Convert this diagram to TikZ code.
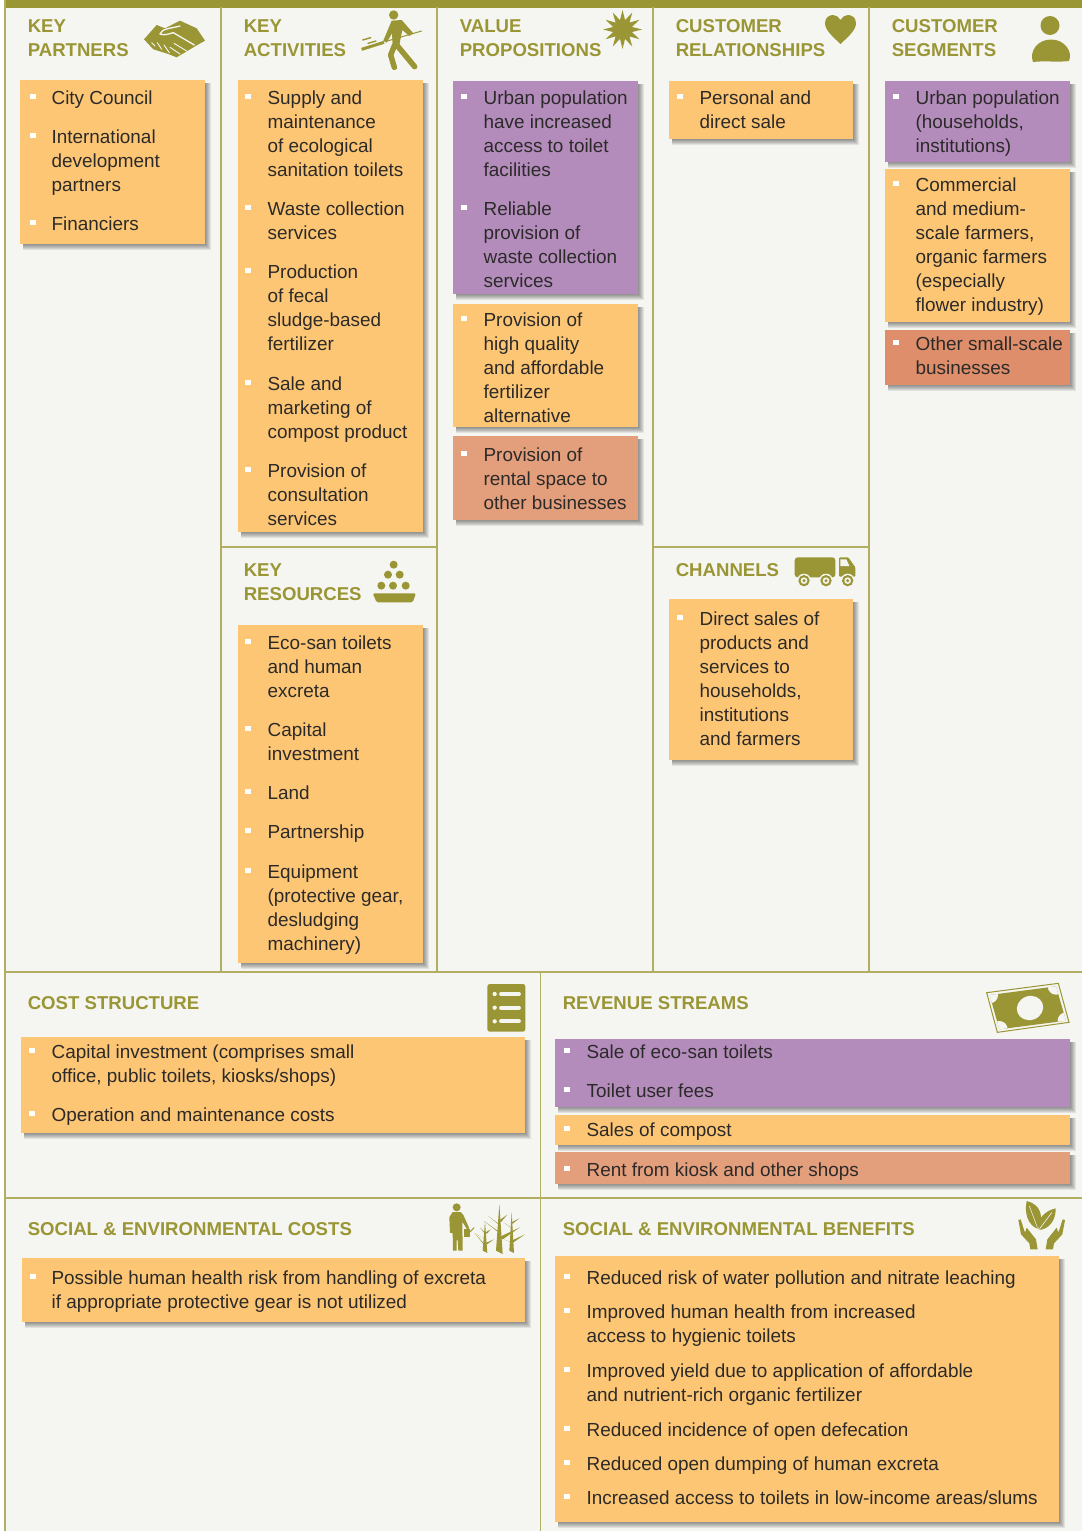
\documentclass[tikz,border=0pt]{standalone}
\usepackage{fontspec}
\setmainfont{Liberation Sans}
\usetikzlibrary{shapes.geometric}
\definecolor{olive}{HTML}{9A9535}
\definecolor{gridc}{HTML}{B2AE62}
\definecolor{paper}{HTML}{F5F6F1}
\definecolor{orangec}{HTML}{FDC674}
\definecolor{purplec}{HTML}{B38CBC}
\definecolor{salmonc}{HTML}{E39E7B}
\definecolor{salmond}{HTML}{DE8E6A}
\definecolor{ink}{HTML}{2C2A29}
\tikzset{
  gridline/.style={draw=gridc,line width=1.5pt},
  cardbox/.style={inner sep=0pt,outer sep=0pt,anchor=north west},
  itemtext/.style={inner sep=0pt,outer sep=0pt,anchor=north west,align=left,text=ink,font=\fontsize{18.92}{24}\selectfont},
  bulletbox/.style={fill=white,inner sep=0pt,outer sep=0pt,minimum size=5.5pt},
  head/.style={inner sep=0pt,outer sep=0pt,anchor=north west,align=left,text=olive,font=\fontsize{18.6}{24}\selectfont\bfseries},
  iconwhite/.style={draw=paper,line cap=round},
  oliveline/.style={draw=olive,line cap=round,line join=round},
  zoomed/.style={x=0.33333pt,y=-0.33333pt},
}
\newcommand{\card}[6]{%
  \foreach \s in {1,2,3,4,5,6}{\fill[black,opacity=.08] (#3+3,#4+3) rectangle (#5+\s,#6+\s);}
  \node[cardbox,fill=#2,minimum width={(#5-#3)*1pt},minimum height={(#6-#4)*1pt}] (#1) at (#3,#4) {};}
\newcommand{\itm}[5]{%
  \node[bulletbox] (#1b) at (#2,#4-0.5) {};
  \node[itemtext] (#1) at (#3-0.4,#4-10.5) {\rule{0pt}{18pt}#5};}
\newcommand{\hdr}[4]{\node[head] (#1) at (#2-0.2,#3-11.2) {\rule{0pt}{18pt}#4};}
\newcommand{\twig}[5]{\fill[olive] (#1-#5,#2) -- (#1+#5,#2+#5) -- (#3,#4) -- cycle;}
\begin{document}
\begin{tikzpicture}[x=1pt,y=-1pt]
\useasboundingbox (0,0) rectangle (1082,1531);
\fill[white] (0,0) rectangle (1082,1531);
\fill[paper] (5,0) rectangle (1082,1531);
\fill[olive] (5,0) rectangle (1082,7.5);
% grid
\draw[gridline] (5,0) -- (5,1531);
\draw[gridline] (221,7) -- (221,972);
\draw[gridline] (437,7) -- (437,972);
\draw[gridline] (653,7) -- (653,972);
\draw[gridline] (869,7) -- (869,972);
\draw[gridline] (221,547) -- (437,547);
\draw[gridline] (653,547) -- (869,547);
\draw[gridline] (5,972) -- (1082,972);
\draw[gridline] (5,1198) -- (1082,1198);
\draw[gridline] (540.5,972) -- (540.5,1531);
% headers
\hdr{hkp}{28}{26}{KEY\\PARTNERS}
\hdr{hka}{244}{26}{KEY\\ACTIVITIES}
\hdr{hvp}{460}{26}{VALUE\\PROPOSITIONS}
\hdr{hcr}{676}{26}{CUSTOMER\\RELATIONSHIPS}
\hdr{hcs}{892}{26}{CUSTOMER\\SEGMENTS}
\hdr{hkr}{244}{570}{KEY\\RESOURCES}
\hdr{hch}{676}{570}{CHANNELS}
\hdr{hcost}{28}{1003}{COST STRUCTURE}
\hdr{hrev}{563}{1003}{REVENUE STREAMS}
\hdr{hsec}{28}{1229}{SOCIAL \& ENVIRONMENTAL COSTS}
\hdr{hseb}{563}{1229}{SOCIAL \& ENVIRONMENTAL BENEFITS}
% key partners
\card{ckp}{orangec}{20}{80}{205}{244}
\itm{kp1}{33}{52}{97}{City Council}
\itm{kp2}{33}{52}{136}{International\\development\\partners}
\itm{kp3}{33}{52}{223}{Financiers}
% key activities
\card{cka}{orangec}{238}{80}{423}{532}
\itm{ka1}{248}{268}{97}{Supply and\\maintenance\\of ecological\\sanitation toilets}
\itm{ka2}{248}{268}{208}{Waste collection\\services}
\itm{ka3}{248}{268}{271}{Production\\of fecal\\sludge-based\\fertilizer}
\itm{ka4}{248}{268}{383}{Sale and\\marketing of\\compost product}
\itm{ka5}{248}{268}{470}{Provision of\\consultation\\services}
% key resources
\card{ckr}{orangec}{238}{625}{423}{963}
\itm{kr1}{248}{268}{642}{Eco-san toilets\\and human\\excreta}
\itm{kr2}{248}{268}{729}{Capital\\investment}
\itm{kr3}{248}{268}{792}{Land}
\itm{kr4}{248}{268}{831}{Partnership}
\itm{kr5}{248}{268}{871}{Equipment\\(protective gear,\\desludging\\machinery)}
% value propositions
\card{cvp1}{purplec}{453}{81}{638}{294}
\itm{vp1}{464}{484}{97}{Urban population\\have increased\\access to toilet\\facilities}
\itm{vp2}{464}{484}{208}{Reliable\\provision of\\waste collection\\services}
\card{cvp2}{orangec}{453}{304}{638}{427}
\itm{vp3}{464}{484}{319}{Provision of\\high quality\\and affordable\\fertilizer\\alternative}
\card{cvp3}{salmonc}{453}{436}{638}{520}
\itm{vp4}{464}{484}{454}{Provision of\\rental space to\\other businesses}
% customer relationships
\card{ccr}{orangec}{669}{81}{853}{139}
\itm{cr1}{680}{700}{97}{Personal and\\direct sale}
% channels
\card{cch}{orangec}{669}{599}{853}{760}
\itm{ch1}{680}{700}{618}{Direct sales of\\products and\\services to\\households,\\institutions\\and farmers}
% customer segments
\card{ccs1}{purplec}{885}{81}{1070}{162}
\itm{cs1}{896}{916}{97}{Urban population\\(households,\\institutions)}
\card{ccs2}{orangec}{885}{169}{1070}{322}
\itm{cs2}{896}{916}{184}{Commercial\\and medium-\\scale farmers,\\organic farmers\\(especially\\flower industry)}
\card{ccs3}{salmond}{885}{330}{1070}{385}
\itm{cs3}{896}{916}{343}{Other small-scale\\businesses}
% cost structure
\card{ccost}{orangec}{21}{1037}{525}{1133}
\itm{co1}{32}{52}{1051}{Capital investment (comprises small\\office, public toilets, kiosks/shops)}
\itm{co2}{32}{52}{1114}{Operation and maintenance costs}
% revenue
\card{crv1}{purplec}{555}{1039}{1070}{1107}
\itm{rv1}{567}{587}{1051}{Sale of eco-san toilets}
\itm{rv2}{567}{587}{1090}{Toilet user fees}
\card{crv2}{orangec}{555}{1115}{1070}{1145}
\itm{rv3}{567}{587}{1129}{Sales of compost}
\card{crv3}{salmonc}{555}{1152}{1070}{1184}
\itm{rv4}{567}{587}{1169}{Rent from kiosk and other shops}
% social costs
\card{csc}{orangec}{22}{1258}{525}{1322}
\itm{sc1}{33}{52}{1277}{Possible human health risk from handling of excreta\\if appropriate protective gear is not utilized}
% social benefits
\card{csb}{orangec}{555}{1256}{1059}{1522}
\itm{sb1}{567}{587}{1277}{Reduced risk of water pollution and nitrate leaching}
\itm{sb2}{567}{587}{1311}{Improved human health from increased\\access to hygienic toilets}
\itm{sb3}{567}{587}{1370}{Improved yield due to application of affordable\\and nutrient-rich organic fertilizer}
\itm{sb4}{567}{587}{1429}{Reduced incidence of open defecation}
\itm{sb5}{567}{587}{1463}{Reduced open dumping of human excreta}
\itm{sb6}{567}{587}{1497}{Increased access to toilets in low-income areas/slums}
% ---- icons ----
\begin{scope}[shift={(0,0)},zoomed]
% handshake
\fill[olive] (432,118) -- (470,75) -- (495,85) -- (540,62) -- (590,85) -- (615,122) -- (592,135) -- (530,172) -- (505,162) -- (460,148) -- cycle;
\draw[iconwhite,line width=1.3pt] (480,102) .. controls (485,85) and (515,85) .. (540,78);
\draw[iconwhite,line width=1.3pt] (480,102) .. controls (495,108) and (510,100) .. (520,98) -- (583,135);
\draw[iconwhite,line width=.9pt] (522,130) -- (560,153);
\draw[iconwhite,line width=.9pt] (510,142) -- (540,162);
\draw[iconwhite,line width=.9pt] (455,128) -- (465,138);
\draw[iconwhite,line width=.9pt] (472,128) -- (485,148);
\draw[iconwhite,line width=.9pt] (492,135) -- (508,158);
% digger
\fill[olive] (1181,45) circle (14);
\fill[olive] (1175,62) -- (1205,60) -- (1240,100) -- (1228,108) -- (1207,90) -- (1198,135) -- (1178,135) -- (1176,100) -- (1160,128) -- (1150,122) -- cycle;
\draw[oliveline,line width=5.5pt] (1184,135) -- (1172,165) -- (1183,202);
\draw[oliveline,line width=5.5pt] (1190,135) -- (1215,165) -- (1244,200);
\draw[oliveline,line width=1pt] (1265,93) -- (1155,125);
\draw[oliveline,line width=3pt,line cap=butt] (1085,148) -- (1152,127);
\draw[oliveline,line width=1.4pt] (1088,120) -- (1112,113);
\draw[oliveline,line width=1.4pt] (1104,130) -- (1128,123);
\end{scope}
\node[star,star points=12,star point ratio=2.0,fill=olive,inner sep=0pt,outer sep=0pt,minimum size=39pt] (istar) at (622.5,29.5) {};
% heart
\fill[olive] (840.5,44) .. controls (832,36) and (825,30) .. (825,23) .. controls (825,17) and (830,15) .. (833,15) .. controls (836,15) and (839,17) .. (840.5,20) .. controls (842,17) and (845,15) .. (848,15) .. controls (851,15) and (856,17) .. (856,23) .. controls (856,30) and (849,36) .. (840.5,44) -- cycle;
% person
\fill[olive] (1050,25.5) circle (9.5);
\fill[olive] (1033,62) .. controls (1029,52) and (1037,39.5) .. (1051,39.5) .. controls (1065,39.5) and (1073,52) .. (1069,61) .. controls (1058,62.5) and (1044,60.5) .. (1033,62) -- cycle;
% tray of dots
\begin{scope}[shift={(360,540)},zoomed]
\foreach \p/\q in {101/74,84/104,119/104,64/137,99/137,137/137}{\fill[olive] (\p,\q) circle (12);}
\fill[olive,rounded corners=1.5pt] (38,160) -- (168,160) -- (158,187) -- (50,187) -- cycle;
\end{scope}
% truck
\begin{scope}[shift={(780,540)},zoomed]
\fill[olive,rounded corners=3pt] (44,52) rectangle (166,112);
\fill[olive,rounded corners=1pt] (177,52) -- (205,52) -- (226,82) -- (226,110) -- (177,110) -- cycle;
\fill[paper] (181,58) -- (199,58) -- (208,78) -- (181,78) -- cycle;
\foreach \p in {72,138,203}{
  \fill[paper] (\p,122) circle (21);
  \fill[olive] (\p,122) circle (17);
  \fill[paper] (\p,122) circle (10);
  \fill[olive] (\p,122) circle (5);}
\end{scope}
% list
\begin{scope}[shift={(470,970)},zoomed]
\fill[olive,rounded corners=2.5pt] (52,42) rectangle (166,185);
\foreach \q in {72,113,154}{
  \fill[paper] (74,\q) circle (6.5);
  \draw[draw=paper,line width=3.8pt,line cap=round] (93,\q) -- (147,\q);}
\end{scope}
% banknote
\begin{scope}[shift={(970,970)},zoomed]
\draw[draw=olive,line width=1pt,fill=paper] (50,68) -- (265,40) -- (297,157) -- (82,187) -- cycle;
\begin{scope}
\clip (59,75) -- (258,49) -- (288,152) -- (88,178) -- cycle;
\fill[olive] (50,30) rectangle (300,190);
\fill[paper] (59,75) circle (25);
\fill[paper] (258,49) circle (25);
\fill[paper] (288,152) circle (25);
\fill[paper] (88,178) circle (25);
\end{scope}
\fill[paper,rotate around={20:(180,114)}] (180,114) ellipse (40 and 36);
\end{scope}
% person and trees
\begin{scope}[shift={(430,1190)},zoomed]
\fill[olive] (80,52) circle (12);
\fill[olive] (68,66) -- (92,66) -- (100,75) -- (118,115) -- (111,118) -- (97,95) -- (98,182) -- (85,182) -- (83,150) -- (80,150) -- (80,182) -- (69,182) -- (68,130) -- (60,128) -- (58,82) -- cycle;
\fill[olive] (103,118) rectangle (121,141);
\draw[oliveline,line width=1pt] (121,125) -- (132,113);
\twig{165}{182}{165}{95}{7}
\twig{208}{182}{208}{42}{10}
\twig{245}{182}{245}{66}{7}
\twig{165}{145}{133}{130}{3}
\twig{165}{165}{135}{130}{3}
\twig{165}{128}{150}{112}{3}
\twig{168}{160}{192}{148}{3}
\twig{168}{128}{182}{118}{3}
\twig{205}{122}{162}{93}{6}
\twig{205}{100}{175}{78}{3.5}
\twig{210}{92}{232}{74}{3.5}
\twig{212}{142}{270}{112}{6}
\twig{245}{112}{220}{97}{3}
\twig{245}{98}{268}{85}{3}
\twig{245}{157}{222}{148}{3}
\twig{245}{154}{285}{133}{4}
\end{scope}
% leaves and hands
\begin{scope}[shift={(990,1190)},zoomed]
\fill[olive] (110,33) .. controls (150,42) and (165,80) .. (142,116) .. controls (115,105) and (102,72) .. (110,33) -- cycle;
\fill[olive] (197,55) .. controls (198,90) and (178,118) .. (146,120) .. controls (138,88) and (165,62) .. (197,55) -- cycle;
\draw[iconwhite,line width=.5pt] (118,48) -- (142,112);
\draw[iconwhite,line width=.6pt] (185,68) -- (146,120);
\fill[olive] (85,90) -- (92,88) -- (105,128) -- (110,113) -- (138,148) -- (143,178) -- (121,178) -- (118,160) -- (93,133) -- cycle;
\fill[olive] (225,90) -- (218,88) -- (205,128) -- (200,113) -- (172,148) -- (167,178) -- (189,178) -- (192,160) -- (217,133) -- cycle;
\end{scope}
\end{tikzpicture}
\end{document}
